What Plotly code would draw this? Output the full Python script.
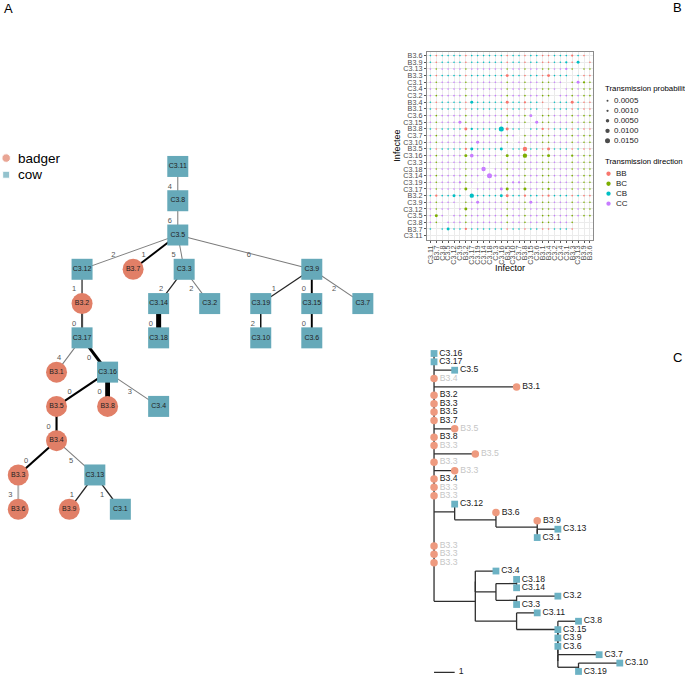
import math
import plotly.graph_objects as go

W, H = 685, 678
FONT = "Liberation Sans, Arial, Helvetica, sans-serif"

# ---------------- Panel A: transmission tree ----------------
A_NODES = ["C3.11", "C3.8", "C3.5", "C3.12", "B3.7", "C3.3", "C3.9", "B3.2", "C3.14", "C3.2",
           "C3.19", "C3.15", "C3.7", "C3.17", "C3.18", "C3.10", "C3.6", "B3.1", "C3.16", "B3.5",
           "B3.8", "C3.4", "B3.4", "B3.3", "C3.13", "B3.6", "B3.9", "C3.1"]
A_PARENTS = [None, "C3.11", "C3.8", "C3.5", "C3.5", "C3.5", "C3.5", "C3.12", "C3.3", "C3.3",
             "C3.9", "C3.9", "C3.9", "B3.2", "C3.14", "C3.19", "C3.15", "C3.17", "C3.17", "C3.16",
             "C3.16", "C3.16", "B3.5", "B3.4", "B3.4", "B3.3", "C3.13", "C3.13"]
A_EDGE_LABELS = [None, 4, 6, 2, 1, 5, 6, 1, 2, 2,
                 1, 0, 2, 0, 0, 2, 0, 4, 0, 0,
                 0, 3, 0, 0, 5, 3, 1, 1]
A_EDGE_PROB = [None, 0.1, 0.1, 0.08, 0.3, 0.1, 0.1, 0.25, 0.15, 0.1,
               0.15, 0.3, 0.1, 0.35, 1.0, 0.2, 0.3, 0.1, 0.55, 0.35,
               0.95, 0.1, 0.35, 0.35, 0.1, 0.3, 0.15, 0.15]
A_EDGE_SUPPORT = [None, 0.35, 0.35, 0.35, 1.0, 0.35, 0.35, 0.5, 0.8, 0.35,
                  0.8, 1.0, 0.35, 0.6, 1.0, 0.9, 1.0, 0.35, 1.0, 1.0,
                  1.0, 0.35, 1.0, 1.0, 0.35, 0.05, 0.8, 0.8]
# horizontal slot of each node in the tree layout
A_LAYOUT_X = [4.75, 4.75, 4.75, 1, 3, 5, 10, 1, 4, 6,
              8, 10, 12, 1, 4, 8, 10, 0, 2, 0,
              2, 4, 0, -1.5, 1.5, -1.5, 0.5, 2.5]
A_LEGEND = ["badger", "cow"]

# ---------------- Panel B: transmission probability matrix ----------------
B_ORDER = ["C3.11", "B3.7", "C3.8", "C3.5", "C3.12", "C3.9", "B3.2", "C3.17", "C3.19", "C3.14",
           "C3.18", "C3.3", "C3.16", "B3.5", "C3.10", "C3.7", "B3.8", "C3.15", "C3.6", "B3.1",
           "B3.4", "C3.2", "C3.4", "C3.1", "B3.3", "C3.13", "B3.9", "B3.6"]
# rows = infectee (top to bottom), columns = infector in B_ORDER; code -> probability
B_ROWS = [
    ".......|.......|.......|...a.. ",   # B3.6
    ".......|.......|.......|..a.b .",   # B3.9
    ".......|.......|.......|..a. ..",   # C3.13
    ".......|......b|......b|... ...",   # B3.3
    ".......|.......|.......|.. .ba.",   # C3.1
    ".......|.......|.......|. .....",   # C3.4
    ".......|.......|.......| ......",   # C3.2
    ".......|b.....b|..a... |...b...",   # B3.4
    ".......|.......|..... .|.......",   # B3.1
    ".......|.......|...b ..|.......",   # C3.6
    ".....b.|.......|... b..|.......",   # C3.15
    "......b|a....eb|.. ..a.|.......",   # B3.8
    ".......|.......|. .....|.......",   # C3.7
    ".......|.b.....| ......|.......",   # C3.10
    "......a|b....b |..d...b|.......",   # B3.5
    "......b|c.... b|..d...b|...a...",   # C3.16
    ".......|.... ..|.......|.......",   # C3.3
    ".......|..d ...|.......|.......",   # C3.18
    ".......|.. ea..|.......|.......",   # C3.14
    ".....a.|. .....|aa.....|.......",   # C3.19
    "......b| ....bb|..b...a|.......",   # C3.17
    ".a..b. |d....bb|..a...a|.......",   # B3.2
    "..... .|.b.....|...b...|.......",   # C3.9
    ".... .b|.......|.......|.......",   # C3.12
    ".b. ...|.......|.......|.......",   # C3.5
    ".. ....|.......|.......|....   ",   # C3.8
    ". .b..a|.......|.......|....   ",   # B3.7
    "       |       |       |       ",   # C3.11
]
B_CODE_PROB = {".": 0.0001, "a": 0.001, "b": 0.003, "c": 0.006, "d": 0.010, "e": 0.015}
B_SIZE_BREAKS = [0.0005, 0.0010, 0.0050, 0.0100, 0.0150]
B_SIZE_LABELS = ["0.0005", "0.0010", "0.0050", "0.0100", "0.0150"]
B_DIRECTIONS = ["BB", "BC", "CB", "CC"]
B_DIR_COLORS = {"BB": "#F8766D", "BC": "#7CAE00", "CB": "#00BFC4", "CC": "#C77CFF"}

# ---------------- Panel C: phylogeny ----------------
C_SUB_M = "(C3.12:0,(B3.6:0,(B3.9:0,(C3.13:1,C3.1:0):0):2):2)"
C_SUB_K = ("((C3.4:1,((C3.18:0,C3.14:0):1,(C3.2:2,C3.3:0):1):1):0,"
           "(C3.11:1,(C3.8:1,(C3.15:0,(C3.9:0,(C3.6:0,(C3.7:2,(C3.10:2,C3.19:0):1):0):0):0):0):2):2)")
C_NEWICK = ("(C3.16:0,C3.17:0,C3.5:1,_B3.4:0,B3.1:4,B3.2:0,B3.3:0,B3.5:0,B3.7:0,_B3.5:1,B3.8:0,"
            "_B3.3:0,_B3.5:2,_B3.3:0,_B3.3:1,B3.4:0,_B3.3:0,_B3.3:0," + C_SUB_M + ":1,"
            "_B3.3:0,_B3.3:0,_B3.3:0," + C_SUB_K + ":2);")

COL_BADGER_A = "#E17F67"
COL_COW_A = "#66A9B9"
COL_BADGER_C = "#EE9A7F"
COL_COW_C = "#6CB2C4"


def dom_x(p0, p1):
    return [p0 / W, p1 / W]


def dom_y(p0, p1):
    return [1 - p1 / H, 1 - p0 / H]


def px(x):
    return x / W


def py(y):
    return 1 - y / H


fig = go.Figure()

# ================= Panel A =================
level = {}
for n, p in zip(A_NODES, A_PARENTS):
    level[n] = 0 if p is None else level[p] + 1
xpos = {n: A_LAYOUT_X[i] for i, n in enumerate(A_NODES)}

lab_x, lab_y, lab_t = [], [], []
for i, n in enumerate(A_NODES):
    p = A_PARENTS[i]
    if p is None:
        continue
    w = 0.6 + 4.4 * A_EDGE_PROB[i]
    g = int(190 * (1 - A_EDGE_SUPPORT[i]))
    fig.add_trace(go.Scatter(x=[xpos[p], xpos[n]], y=[level[p], level[n]], mode="lines",
                             line=dict(color=f"rgb({g},{g},{g})", width=w),
                             xaxis="x", yaxis="y", hoverinfo="skip", showlegend=False))
    f = 0.41
    lab_x.append(xpos[n] + (xpos[p] - xpos[n]) * f - 0.31)
    lab_y.append(level[n] - f)
    lab_t.append(str(A_EDGE_LABELS[i]))
fig.add_trace(go.Scatter(x=lab_x, y=lab_y, text=lab_t, mode="text",
                         textfont=dict(family=FONT, size=7.5, color="#555555"),
                         xaxis="x", yaxis="y", hoverinfo="skip", showlegend=False, cliponaxis=False))
for kind, sym, col in [("B", "circle", COL_BADGER_A), ("C", "square", COL_COW_A)]:
    ns = [n for n in A_NODES if n.startswith(kind)]
    fig.add_trace(go.Scatter(x=[xpos[n] for n in ns], y=[level[n] for n in ns], text=ns,
                             mode="markers+text", textposition="middle center",
                             marker=dict(symbol=sym, size=21, color=col, line=dict(width=0)),
                             textfont=dict(family=FONT, size=7, color="#222222"),
                             xaxis="x", yaxis="y", hoverinfo="skip", showlegend=False,
                             cliponaxis=False))

# ================= Panel B =================
gx, gy, gs, gc = [], [], [], []
infectee_top_down = list(reversed(B_ORDER))
for r, row in enumerate(B_ROWS):
    codes = row.replace("|", "")
    assert len(codes) == 28, (r, len(codes))
    infectee = infectee_top_down[r]
    for c, ch in enumerate(codes):
        if ch == " ":
            continue
        infector = B_ORDER[c]
        p = B_CODE_PROB[ch]
        gx.append(infector)
        gy.append(infectee)
        gs.append(1.33 + 30 * math.sqrt(p))
        gc.append(B_DIR_COLORS[infector[0] + infectee[0]])
fig.add_trace(go.Scatter(x=gx, y=gy, mode="markers",
                         marker=dict(size=gs, color=gc, line=dict(width=0), opacity=1),
                         xaxis="x2", yaxis="y2", hoverinfo="skip", showlegend=False))

# ================= Panel C =================
def parse_newick(s):
    s = s.strip().rstrip(";")
    pos = [0]

    def node():
        nd = {"children": [], "name": "", "bl": 0.0}
        if s[pos[0]] == "(":
            pos[0] += 1
            while True:
                nd["children"].append(node())
                if s[pos[0]] == ",":
                    pos[0] += 1
                    continue
                pos[0] += 1
                break
        st = pos[0]
        while pos[0] < len(s) and s[pos[0]] not in ",():":
            pos[0] += 1
        nd["name"] = s[st:pos[0]]
        if pos[0] < len(s) and s[pos[0]] == ":":
            pos[0] += 1
            st = pos[0]
            while pos[0] < len(s) and s[pos[0]] not in ",()":
                pos[0] += 1
            nd["bl"] = float(s[st:pos[0]])
        return nd
    return node()


tree = parse_newick(C_NEWICK)
tips = []


def layout(nd, x0):
    nd["x"] = x0 + nd["bl"]
    if not nd["children"]:
        nd["y"] = len(tips)
        tips.append(nd)
    else:
        for ch in nd["children"]:
            layout(ch, nd["x"])
        ys = [ch["y"] for ch in nd["children"]]
        nd["y"] = (min(ys) + max(ys)) / 2


tree["bl"] = 0.0
layout(tree, 0.0)
sx, sy = [], []


def segs(nd, parent=None):
    if parent is not None:
        sx.extend([parent["x"], nd["x"], None])
        sy.extend([nd["y"], nd["y"], None])
    if nd["children"]:
        ys = [ch["y"] for ch in nd["children"]]
        sx.extend([nd["x"], nd["x"], None])
        sy.extend([min(ys), max(ys), None])
        for ch in nd["children"]:
            segs(ch, nd)


segs(tree)
fig.add_trace(go.Scatter(x=sx, y=sy, mode="lines", line=dict(color="#2E2E2E", width=1.3),
                         xaxis="x3", yaxis="y3", hoverinfo="skip", showlegend=False))
for kind, sym, col, size in [("B", "circle", COL_BADGER_C, 7.5), ("C", "square", COL_COW_C, 6.8)]:
    sel = [t for t in tips if t["name"].lstrip("_").startswith(kind)]
    fig.add_trace(go.Scatter(
        x=[t["x"] for t in sel], y=[t["y"] for t in sel],
        text=[t["name"].lstrip("_") for t in sel], mode="markers+text",
        textposition="middle right",
        marker=dict(symbol=sym, size=size, color=col, line=dict(width=0)),
        textfont=dict(family=FONT, size=8.7,
                      color=["#C6C6C6" if t["name"].startswith("_") else "#1A1A1A" for t in sel]),
        xaxis="x3", yaxis="y3", hoverinfo="skip", showlegend=False, cliponaxis=False))
# scale bar
fig.add_trace(go.Scatter(x=[0, 1], y=[38.1, 38.1], mode="lines", line=dict(color="#2E2E2E", width=1.3),
                         xaxis="x3", yaxis="y3", hoverinfo="skip", showlegend=False))
fig.add_trace(go.Scatter(x=[1.2], y=[38.1], text=["1"], mode="text", textposition="middle right",
                         textfont=dict(family=FONT, size=8.7, color="#1A1A1A"),
                         xaxis="x3", yaxis="y3", hoverinfo="skip", showlegend=False, cliponaxis=False))

# ================= Legends (overlay axis in pixel units) =================
ann = []


def text(xp, yp, t, size, color="#000000", xanchor="left", angle=0):
    ann.append(dict(x=px(xp), y=py(yp), xref="paper", yref="paper", text=t, showarrow=False,
                    xanchor=xanchor, yanchor="middle", textangle=angle,
                    font=dict(family=FONT, size=size, color=color)))


# panel A legend
fig.add_trace(go.Scatter(x=[5.2, 5.2], y=[158.3, 175.0], mode="markers",
                         marker=dict(symbol=["circle", "square"], size=[8.5, 7],
                                     color=[COL_BADGER_A, COL_COW_A]),
                         xaxis="x4", yaxis="y4", hoverinfo="skip", showlegend=False))
text(15.5, 158.3, A_LEGEND[0], 13.5)
text(15.5, 175.0, A_LEGEND[1], 13.5)

# panel B legends
text(604, 89, "Transmission probability", 7.8)
fig.add_trace(go.Scatter(x=[608.3] * len(B_SIZE_BREAKS),
                         y=[101 + 10 * i for i in range(len(B_SIZE_BREAKS))], mode="markers",
                         marker=dict(size=[1.33 + 30 * math.sqrt(v) for v in B_SIZE_BREAKS],
                                     color="#000000", line=dict(width=0)),
                         xaxis="x4", yaxis="y4", hoverinfo="skip", showlegend=False))
for i, lab in enumerate(B_SIZE_LABELS):
    text(612.3, 101 + 10 * i, lab, 8, "#1A1A1A")
text(604, 161.7, "Transmission direction", 7.8)
fig.add_trace(go.Scatter(x=[609.3] * 4, y=[174 + 10 * i for i in range(4)], mode="markers",
                         marker=dict(size=4.3, color=[B_DIR_COLORS[d] for d in B_DIRECTIONS],
                                     line=dict(width=0)),
                         xaxis="x4", yaxis="y4", hoverinfo="skip", showlegend=False))
for i, d in enumerate(B_DIRECTIONS):
    text(615, 174 + 10 * i, d, 8, "#1A1A1A")

# axis titles of panel B
text(397, 146, "Infectee", 9, xanchor="center", angle=-90)
text(510.7, 268, "Infector", 9, xanchor="center")

# panel letters
text(8, 9, "A", 13, xanchor="center")
text(678, 8, "B", 13, xanchor="center")
text(678, 358, "C", 13, xanchor="center")

hidden = dict(visible=False, showgrid=False, zeroline=False, showticklabels=False, fixedrange=True)

# Panel A axes
A_BOX = (0, 135, 400, 530)
A_OX, A_SX, A_OY, A_SY = 55.7, 25.6, 166.7, 34.33
# Panel C axes
C_BOX = (420, 340, 685, 678)
C_OX, C_SX, C_OY, C_SY = 434.3, 20.7, 354.0, 8.38
# Panel B box
B_BOX = (427.1, 51.7, 594.2, 240.0)

axis_b_common = dict(type="category", categoryorder="array", categoryarray=B_ORDER,
                     tickmode="array", tickvals=B_ORDER, ticktext=B_ORDER,
                     range=[-0.6, 27.6], showgrid=True, gridcolor="#EBEBEB", gridwidth=0.6,
                     zeroline=False, showline=True, mirror=True, linecolor="#8C8C8C", linewidth=1,
                     ticks="outside", ticklen=2, tickwidth=0.6, tickcolor="#555555",
                     tickfont=dict(family=FONT, size=7.2, color="#4D4D4D"), fixedrange=True)

fig.update_layout(
    width=W, height=H, margin=dict(l=0, r=0, t=0, b=0),
    paper_bgcolor="white", plot_bgcolor="rgba(0,0,0,0)", showlegend=False,
    font=dict(family=FONT),
    xaxis=dict(domain=dom_x(A_BOX[0], A_BOX[2]),
               range=[(A_BOX[0] - A_OX) / A_SX, (A_BOX[2] - A_OX) / A_SX], anchor="y", **hidden),
    yaxis=dict(domain=dom_y(A_BOX[1], A_BOX[3]),
               range=[(A_BOX[3] - A_OY) / A_SY, (A_BOX[1] - A_OY) / A_SY], anchor="x", **hidden),
    xaxis2=dict(domain=dom_x(B_BOX[0], B_BOX[2]), anchor="y2", tickangle=-90, **axis_b_common),
    yaxis2=dict(domain=dom_y(B_BOX[1], B_BOX[3]), anchor="x2", **axis_b_common),
    xaxis3=dict(domain=dom_x(C_BOX[0], C_BOX[2]),
                range=[(C_BOX[0] - C_OX) / C_SX, (C_BOX[2] - C_OX) / C_SX], anchor="y3", **hidden),
    yaxis3=dict(domain=dom_y(C_BOX[1], C_BOX[3]),
                range=[(C_BOX[3] - C_OY) / C_SY, (C_BOX[1] - C_OY) / C_SY], anchor="x3", **hidden),
    xaxis4=dict(domain=[0, 1], range=[0, W], anchor="y4", **hidden),
    yaxis4=dict(domain=[0, 1], range=[H, 0], anchor="x4", **hidden),
    annotations=ann,
)

fig.write_html("out.html", config={"displayModeBar": False},
               post_script="document.body.style.margin='0';")
